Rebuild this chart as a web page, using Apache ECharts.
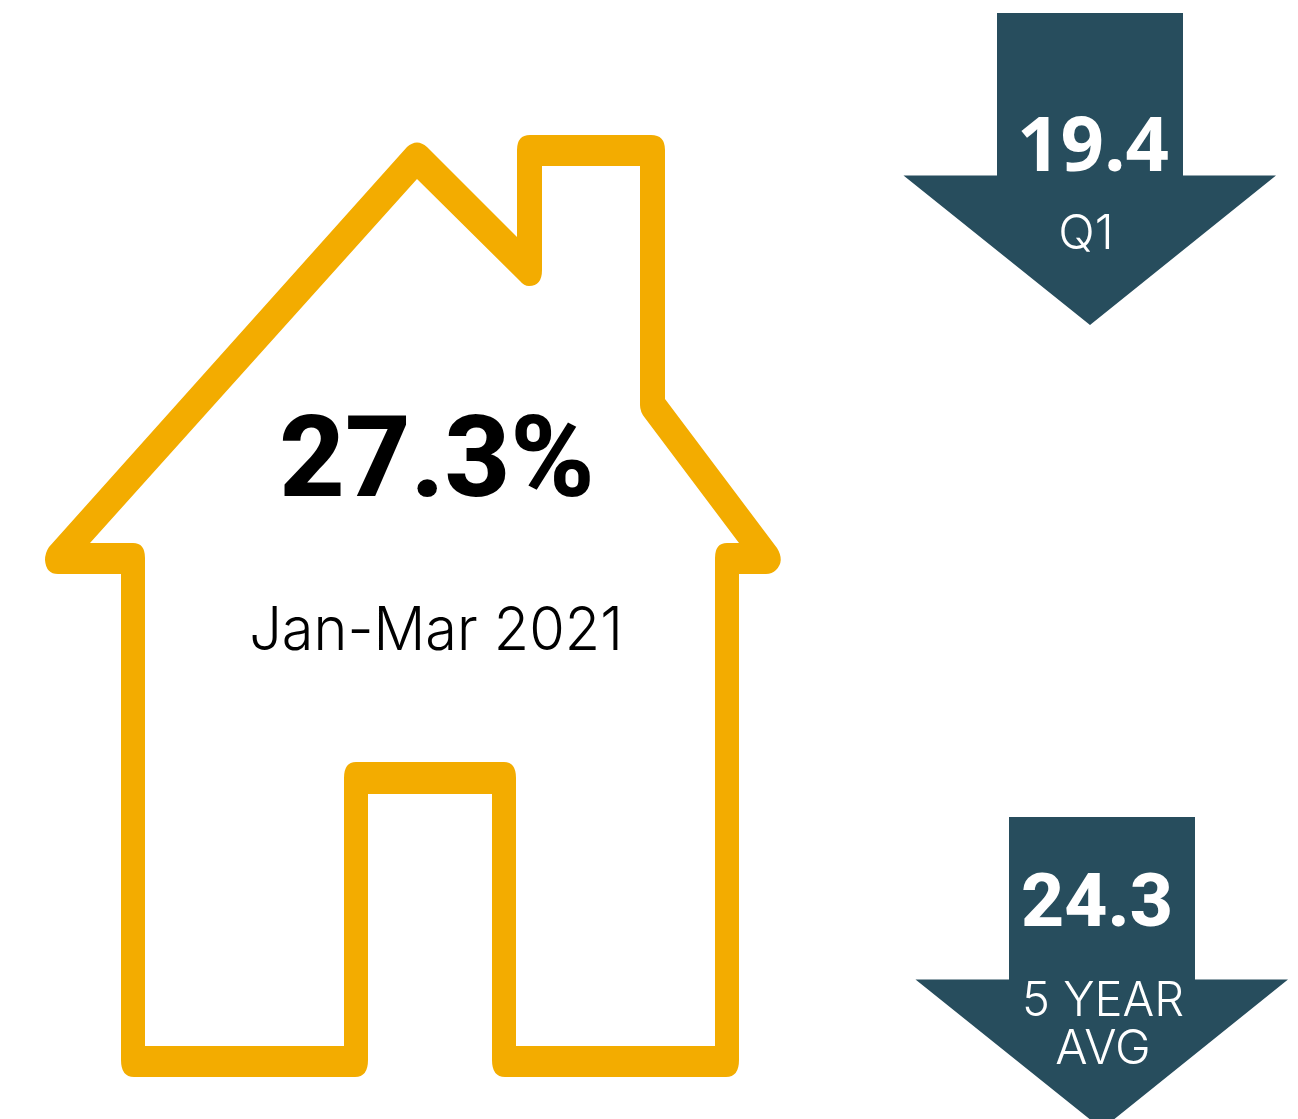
<!DOCTYPE html>
<html>
<head>
<meta charset="utf-8">
<style>
    html, body { margin: 0; padding: 0; background: #fff; }
    #chart { width: 1298px; height: 1119px; }
</style>
<script src="https://cdn.jsdelivr.net/npm/echarts@6/dist/echarts.min.js"></script>
</head>
<body>
<div id="chart"></div>
<script>
// shares, in percent
const values = [27.3, 19.4, 24.3];
const unitSuffix = ["%", "", ""];
const captions = [["Jan-Mar 2021"], ["Q1"], ["5 YEAR", "AVG"]];

const ORANGE = "#f3ac00";
const TEAL = "#274d5d";

// outer edge clockwise, inner edge the other way round so it cuts a hole
const HOUSE_PATH = [
    "M49 547 L407 147 Q417 138 427 147 L517 237 L517 150 Q517 135 530 135 L651 135 Q665 135 665 150 L665 399",
    "L777 548 Q785 561 776 570 Q772 574 766 574 L739 574 L739 1060 Q739 1077 726 1077 L505 1077 Q492 1077 492 1060",
    "L492 794 L368 794 L368 1060 Q368 1077 355 1077 L134 1077 Q121 1077 121 1060 L121 574 L58 574 Q46 574 45 560 Q45 553 49 547 Z",
    "M417 179 L90 543 L133 543 Q145 543 145 558 L145 1046 L344 1046 L344 778 Q344 762 356 762 L504 762 Q516 762 516 778",
    "L516 1046 L715 1046 L715 558 Q715 543 727 543 L739 543 L645 418 Q640 412 640 405 L640 166 L542 166 L542 270",
    "Q542 286 529 286 Q524 286 520 281 Z",
].join(" ");

const ARROW_PATH = "M997 13 L1183 13 L1183 175.5 L1276 175.5 L1090 325 L903.5 175.5 L997 175.5 Z";

function label(i) {
    return values[i].toFixed(1) + unitSuffix[i];
}

// squeeze narrows a caption a little, Inter runs wider than the original face
function text(str, x, y, size, weight, family, fill, squeeze = 1) {
    return {
        type: "text",
        silent: true,
        x,
        y,
        z: 100,
        scaleX: squeeze,
        style: { text: str, font: weight + " " + size + "px " + family, fill, align: "center", verticalAlign: "middle" },
    };
}

const chart = echarts.init(document.getElementById("chart"), null, { renderer: "canvas" });

chart.setOption({
    animation: false,
    backgroundColor: "#fff",
    series: [
        {
            type: "custom",
            coordinateSystem: "none",
            silent: true,
            data: values.map((v, i) => [i, v]),
            renderItem(params, api) {
                const i = api.value(0);
                if (i === 0) {
                    return { type: "path", shape: { pathData: HOUSE_PATH }, style: { fill: ORANGE } };
                }
                return {
                    type: "path",
                    x: i === 1 ? 0 : 12,
                    y: i === 1 ? 0 : 804,
                    shape: { pathData: ARROW_PATH },
                    style: { fill: TEAL },
                };
            },
        },
    ],
    graphic: [
        text(label(0), 437, 467, 114, 800, "Roboto", "#000"),
        text(captions[0][0], 436, 632, 60, 300, "Inter", "#000", 0.96),
        text(label(1), 1093, 149, 76, 700, "'Open Sans'", "#fff"),
        text(captions[1][0], 1086, 235, 48, 300, "Inter", "#fff"),
        text(label(2), 1097, 907, 75, 800, "Roboto", "#fff"),
        text(captions[2][0], 1103, 1002, 48, 300, "Inter", "#fff", 0.98),
        text(captions[2][1], 1103, 1050, 48, 300, "Inter", "#fff"),
    ],
});
</script>
</body>
</html>
